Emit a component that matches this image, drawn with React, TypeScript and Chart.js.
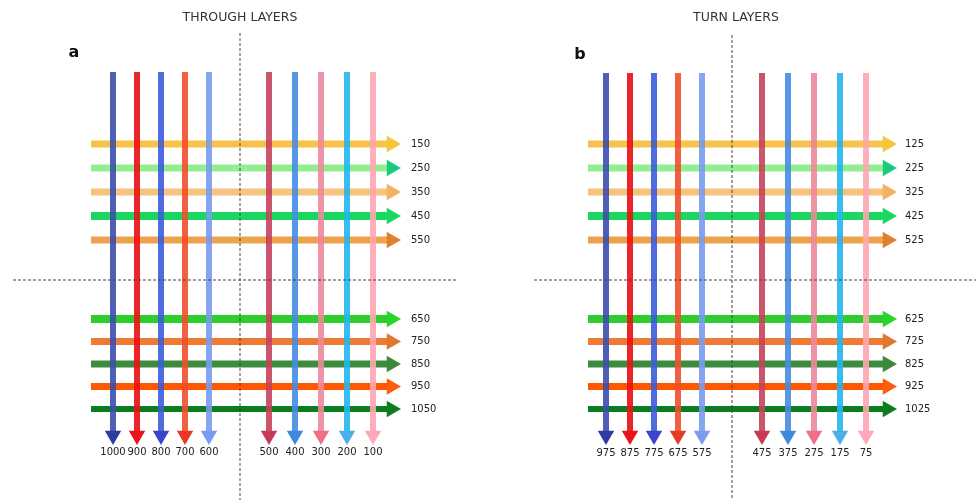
import React, { useEffect, useRef } from "react";
import { Chart, registerables } from "chart.js";

Chart.register(...registerables);

// ---------- DATA ----------
const THROUGH_TITLE = "THROUGH LAYERS";
const TURN_TITLE = "TURN LAYERS";
const THROUGH_VERTICAL = [1000, 900, 800, 700, 600, 500, 400, 300, 200, 100];
const THROUGH_HORIZONTAL = [150, 250, 350, 450, 550, 650, 750, 850, 950, 1050];
const TURN_VERTICAL = [975, 875, 775, 675, 575, 475, 375, 275, 175, 75];
const TURN_HORIZONTAL = [125, 225, 325, 425, 525, 625, 725, 825, 925, 1025];

// ---------- STYLES ----------
const VERTICAL_COLORS = [
  "rgba(60,78,172,0.9)",
  "rgba(232,20,24,0.92)",
  "rgba(60,92,216,0.9)",
  "rgba(238,80,45,0.9)",
  "rgba(120,155,240,0.9)",
  "rgba(196,66,92,0.9)",
  "rgba(70,140,224,0.9)",
  "rgba(236,136,156,0.9)",
  "rgba(36,182,238,0.9)",
  "rgba(255,166,178,0.9)",
];
const VERTICAL_HEAD_COLORS = [
  "#2c3ca2", "#e8141a", "#3a45cc", "#e63a24", "#7a9cf0",
  "#c63a55", "#3e88dd", "#f06e88", "#4aaee8", "#ffa8bc",
];
const HORIZONTAL_COLORS = [
  "#f6c24b", "#93ee8f", "#f5c47c", "#1bd760", "#eda24e",
  "#2dcd2d", "#ee7a33", "#3d8c3d", "#ff5600", "#0b7c1f",
];
const HORIZONTAL_HEAD_COLORS = [
  "#f3c53a", "#1ccb80", "#f2b263", "#1bd760", "#e07f30",
  "#25d625", "#e27531", "#3b8a3b", "#ff5c12", "#0b7c1f",
];
const HORIZONTAL_WIDTHS = [7, 7, 7, 8, 7, 8, 7, 7, 7, 6];
const VERTICAL_WIDTH = 6;
const HEAD_R = 9.5;

const PANEL_W = 488;
const PANEL_H = 500;

const ROWS = { upper0: 144, upperStep: 24, lower0: 319, lowerStep: 22.5, midY: 280 };

const LAYOUT_A = {
  leftLane0: 113, leftStep: 24, rightLane0: 269, rightStep: 26,
  vTop: 72, vTip: 445, vLabelY: 452,
  hStart: 91, hTip: 401, labelGap: 10,
  divX: 240, divTop: 33, hDashFrom: 13, hDashTo: 457,
  titleX: 240, titleY: 18, letterX: 74, letterY: 53,
};
const LAYOUT_B = {
  leftLane0: 118, leftStep: 24, rightLane0: 274, rightStep: 26,
  vTop: 73, vTip: 445, vLabelY: 453,
  hStart: 100, hTip: 409, labelGap: 8,
  divX: 244, divTop: 35, hDashFrom: 46, hDashTo: 488,
  titleX: 248, titleY: 18, letterX: 92, letterY: 55,
};

type Layout = typeof LAYOUT_A;

function Panel(props: {
  title: string;
  letter: string;
  verticals: number[];
  horizontals: number[];
  layout: Layout;
}) {
  const ref = useRef<HTMLCanvasElement>(null);

  useEffect(() => {
    const L = props.layout;
    const laneX = (i: number) =>
      i < 5 ? L.leftLane0 + i * L.leftStep : L.rightLane0 + (i - 5) * L.rightStep;
    const rowY = (j: number) =>
      j < 5 ? ROWS.upper0 + j * ROWS.upperStep : ROWS.lower0 + (j - 5) * ROWS.lowerStep;

    const datasets: any[] = [];
    // dashed dividers
    datasets.push({
      data: [{ x: L.divX, y: L.divTop }, { x: L.divX, y: PANEL_H }],
      borderColor: "#444", borderWidth: 1, borderDash: [3, 2], pointRadius: 0, order: 0,
    });
    datasets.push({
      data: [{ x: L.hDashFrom, y: ROWS.midY }, { x: L.hDashTo, y: ROWS.midY }],
      borderColor: "#444", borderWidth: 1, borderDash: [3, 2], pointRadius: 0, order: 0,
    });
    // vertical arrows
    props.verticals.forEach((v, i) => {
      const x = laneX(i);
      datasets.push({
        label: String(v),
        data: [{ x, y: L.vTop }, { x, y: L.vTip - HEAD_R }],
        borderColor: VERTICAL_COLORS[i],
        borderWidth: VERTICAL_WIDTH,
        pointRadius: [0, HEAD_R],
        pointStyle: "triangle",
        pointRotation: 180,
        pointBackgroundColor: VERTICAL_HEAD_COLORS[i],
        pointBorderWidth: 0,
        order: 1,
      });
    });
    // horizontal arrows
    props.horizontals.forEach((h, j) => {
      const y = rowY(j);
      datasets.push({
        label: String(h),
        data: [{ x: L.hStart, y }, { x: L.hTip - HEAD_R, y }],
        borderColor: HORIZONTAL_COLORS[j],
        borderWidth: HORIZONTAL_WIDTHS[j],
        pointRadius: [0, HEAD_R],
        pointStyle: "triangle",
        pointRotation: 90,
        pointBackgroundColor: HORIZONTAL_HEAD_COLORS[j],
        pointBorderWidth: 0,
        order: 2,
      });
    });

    const textPlugin = {
      id: "panelText",
      afterDatasetsDraw(chart: any) {
        const ctx = chart.ctx as CanvasRenderingContext2D;
        const xs = chart.scales.x;
        const ys = chart.scales.y;
        ctx.save();
        ctx.textBaseline = "middle";
        // title
        ctx.fillStyle = "#333";
        ctx.font = '12.5px "DejaVu Sans"';
        ctx.textAlign = "center";
        ctx.fillText(props.title, xs.getPixelForValue(L.titleX), ys.getPixelForValue(L.titleY));
        // letter
        ctx.fillStyle = "#111";
        ctx.font = 'bold 16px "DejaVu Sans"';
        ctx.fillText(props.letter, xs.getPixelForValue(L.letterX), ys.getPixelForValue(L.letterY));
        // vertical labels
        ctx.fillStyle = "#222";
        ctx.font = '10px "DejaVu Sans"';
        props.verticals.forEach((v, i) => {
          ctx.fillText(String(v), xs.getPixelForValue(laneX(i)), ys.getPixelForValue(L.vLabelY));
        });
        // horizontal labels
        ctx.textAlign = "left";
        props.horizontals.forEach((h, j) => {
          ctx.fillText(String(h), xs.getPixelForValue(L.hTip + L.labelGap), ys.getPixelForValue(rowY(j)));
        });
        ctx.restore();
      },
    };

    const chart = new Chart(ref.current as HTMLCanvasElement, {
      type: "line",
      data: { datasets },
      options: {
        animation: false,
        responsive: false,
        maintainAspectRatio: false,
        events: [],
        layout: { padding: 0, autoPadding: false },
        plugins: { legend: { display: false }, tooltip: { enabled: false }, title: { display: false } },
        scales: {
          x: { type: "linear", min: 0, max: PANEL_W, display: false },
          y: { type: "linear", min: 0, max: PANEL_H, reverse: true, display: false },
        },
      },
      plugins: [textPlugin],
    } as any);
    return () => chart.destroy();
  }, []);

  return <canvas ref={ref} width={PANEL_W} height={PANEL_H} style={{ display: "block" }} />;
}

export default function App() {
  return (
    <div
      style={{
        position: "absolute", left: 0, top: 0, width: 976, height: 500,
        display: "flex", background: "#fff",
      }}
    >
      <Panel title={THROUGH_TITLE} letter="a" verticals={THROUGH_VERTICAL} horizontals={THROUGH_HORIZONTAL} layout={LAYOUT_A} />
      <Panel title={TURN_TITLE} letter="b" verticals={TURN_VERTICAL} horizontals={TURN_HORIZONTAL} layout={LAYOUT_B} />
    </div>
  );
}
